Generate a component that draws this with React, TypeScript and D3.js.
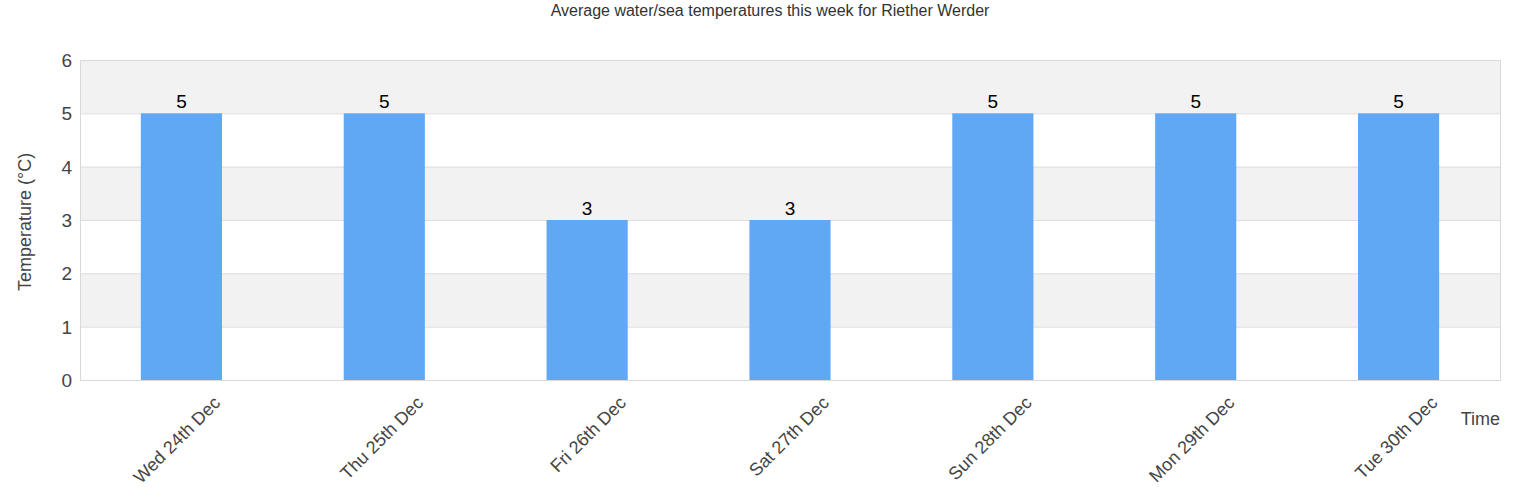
import React, { useEffect, useRef } from 'react';
import * as d3 from 'd3';

const categories = ['Wed 24th Dec', 'Thu 25th Dec', 'Fri 26th Dec', 'Sat 27th Dec', 'Sun 28th Dec', 'Mon 29th Dec', 'Tue 30th Dec'];
const temps = [5, 5, 3, 3, 5, 5, 5];
const yTicks = [0, 1, 2, 3, 4, 5, 6];

const W = 1540;
const H = 500;
const FONT = '"Liberation Sans", Arial, sans-serif';

export default function App() {
  const svgRef = useRef<SVGSVGElement>(null);

  useEffect(() => {
    if (!svgRef.current) return;
    const svg = d3.select(svgRef.current);
    svg.selectAll('*').remove();

    const left = 80, right = 1500, top = 60, bottom = 380;

    const x = d3.scaleBand().domain(categories).range([left, right]).paddingInner(0.6).paddingOuter(0.3);
    const y = d3.scaleLinear().domain([0, 6]).range([bottom, top]);

    svg.append('rect').attr('width', W).attr('height', H).attr('fill', '#fff');

    // alternating bands
    yTicks.slice(0, -1).forEach((t) => {
      if (t % 2 === 1) {
        svg.append('rect')
          .attr('x', left).attr('width', right - left)
          .attr('y', y(t + 1)).attr('height', y(t) - y(t + 1))
          .attr('fill', '#f2f2f2');
      }
    });

    // grid lines
    svg.append('g')
      .selectAll('line')
      .data(yTicks)
      .enter()
      .append('line')
      .attr('x1', left).attr('x2', right)
      .attr('y1', (d) => y(d) + 0.5).attr('y2', (d) => y(d) + 0.5)
      .attr('stroke', '#dddddd');

    // frame
    svg.append('rect')
      .attr('x', left + 0.5).attr('y', top + 0.5)
      .attr('width', right - left).attr('height', bottom - top)
      .attr('fill', 'none').attr('stroke', '#d9d9d9');

    // y tick labels
    svg.append('g')
      .selectAll('text')
      .data(yTicks)
      .enter()
      .append('text')
      .attr('x', left - 8).attr('y', (d) => y(d) + 7)
      .attr('text-anchor', 'end')
      .attr('font-family', FONT).attr('font-size', 19).attr('fill', '#444')
      .text((d) => d);

    // bars
    svg.append('g')
      .selectAll('rect')
      .data(temps)
      .enter()
      .append('rect')
      .attr('x', (_, i) => x(categories[i]) || 0)
      .attr('y', (d) => y(d))
      .attr('width', x.bandwidth())
      .attr('height', (d) => y(0) - y(d))
      .attr('fill', '#60a8f4');

    // value labels
    svg.append('g')
      .selectAll('text')
      .data(temps)
      .enter()
      .append('text')
      .attr('x', (_, i) => (x(categories[i]) || 0) + x.bandwidth() / 2)
      .attr('y', (d) => y(d) - 5)
      .attr('text-anchor', 'middle')
      .attr('font-family', FONT).attr('font-size', 19).attr('fill', '#000')
      .text((d) => d);

    // x labels
    svg.append('g')
      .selectAll('text')
      .data(categories)
      .enter()
      .append('text')
      .attr('transform', (d) => {
        const cx = (x(d) || 0) + x.bandwidth() / 2 + 40;
        return `translate(${cx},${404}) rotate(-45)`;
      })
      .attr('text-anchor', 'end')
      .attr('font-family', FONT).attr('font-size', 18).attr('fill', '#444')
      .text((d) => d);

    // axis titles
    svg.append('text')
      .attr('transform', `translate(31,${(top + bottom) / 2 + 2}) rotate(-90)`)
      .attr('text-anchor', 'middle')
      .attr('font-family', FONT).attr('font-size', 18).attr('fill', '#444')
      .text('Temperature (°C)');

    svg.append('text')
      .attr('x', 1500).attr('y', 425)
      .attr('text-anchor', 'end')
      .attr('font-family', FONT).attr('font-size', 18).attr('fill', '#444')
      .text('Time');

    svg.append('text')
      .attr('x', W / 2).attr('y', 16)
      .attr('text-anchor', 'middle')
      .attr('font-family', FONT).attr('font-size', 16).attr('fill', '#333')
      .text('Average water/sea temperatures this week for Riether Werder');
  }, []);

  return (
    <svg
      ref={svgRef}
      width={W}
      height={H}
      style={{ position: 'absolute', left: 0, top: 0, display: 'block' }}
    />
  );
}
